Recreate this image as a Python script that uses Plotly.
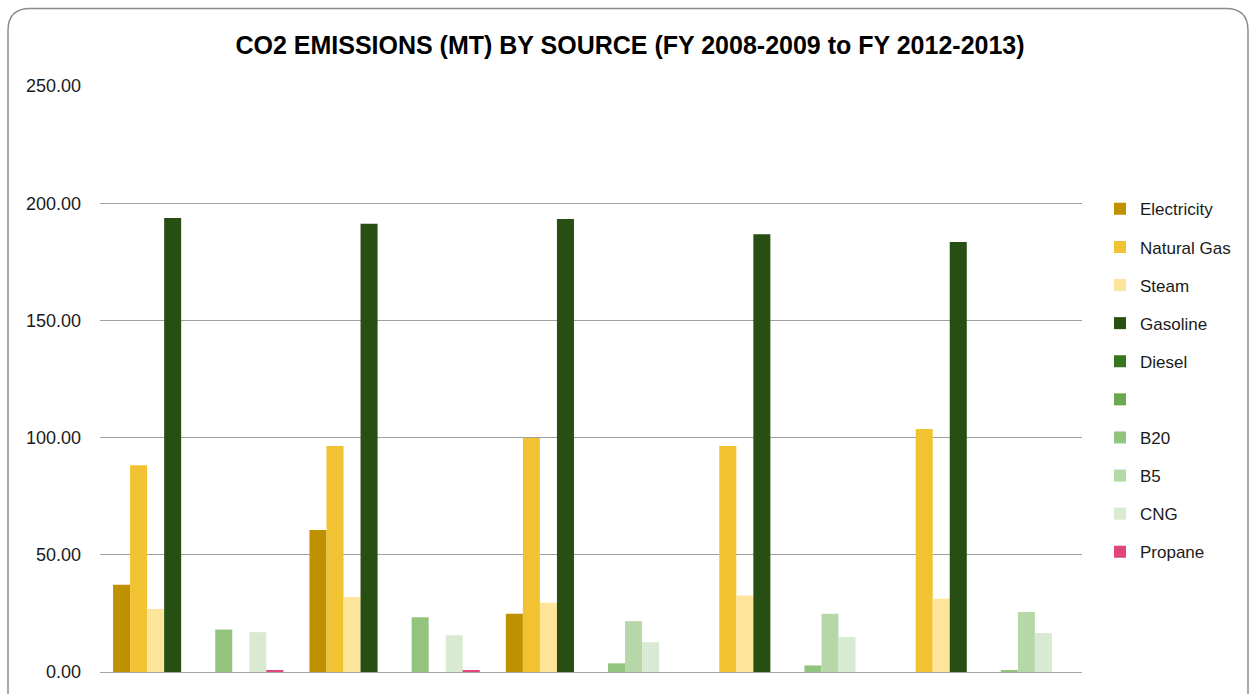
import plotly.graph_objects as go

years = ["FY 2008-2009", "FY 2009-2010", "FY 2010-2011", "FY 2011-2012", "FY 2012-2013"]

electricity = [37.2, 60.6, 24.8, None, None]
natural_gas = [88.2, 96.4, 99.8, 96.4, 103.7]
steam = [26.9, 32.0, 29.5, 32.6, 31.2]
gasoline = [193.7, 191.2, 193.3, 186.8, 183.5]
diesel = [None, None, None, None, None]
blank = [None, None, None, None, None]
b20 = [18.1, 23.4, 3.7, 2.8, 0.8]
b5 = [None, None, 21.7, 24.8, 25.6]
cng = [17.0, 15.7, 12.7, 14.9, 16.6]
propane = [0.8, 0.8, None, None, None]

series = [
    ("Electricity", electricity, "#BF9000"),
    ("Natural Gas", natural_gas, "#F1C232"),
    ("Steam", steam, "#FFE599"),
    ("Gasoline", gasoline, "#274E13"),
    ("Diesel", diesel, "#38761D"),
    (" ", blank, "#6AA84F"),
    ("B20", b20, "#93C47D"),
    ("B5", b5, "#B6D7A8"),
    ("CNG", cng, "#D9EAD3"),
    ("Propane", propane, "#E0457B"),
]

FONT = "Liberation Sans"

fig = go.Figure()
for i, (name, vals, color) in enumerate(series):
    fig.add_trace(go.Bar(
        x=years, y=vals, name=name, legendgroup=f"g{i}",
        marker=dict(color=color, line=dict(width=0)),
    ))

L, R, T, B = 100, 168, 86, 18
W, H = 1250, 694
pw, ph = W - L - R, H - T - B

def px(x):
    return (x - L) / pw

def py(y):
    return (H - B - y) / ph

# rounded outer border
x0, x1, y0, y1 = px(8), px(1248), py(8), py(720)
rx, ry = 22 / pw, 22 / ph
path = (f"M {x0},{y1} L {x0},{y0 - ry} Q {x0},{y0} {x0 + rx},{y0} "
        f"L {x1 - rx},{y0} Q {x1},{y0} {x1},{y0 - ry} L {x1},{y1}")

fig.update_layout(
    width=W, height=H,
    margin=dict(l=L, r=R, t=T, b=B),
    paper_bgcolor="white", plot_bgcolor="white",
    barmode="group", bargap=0.133, bargroupgap=0,
    title=dict(text="<b>CO2 EMISSIONS (MT) BY SOURCE (FY 2008-2009 to FY 2012-2013)</b>",
               x=0.504, xanchor="center", y=0.935, yanchor="middle",
               font=dict(family=FONT, size=25, color="#000000")),
    font=dict(family=FONT, size=17, color="#1a1a1a"),
    xaxis=dict(showticklabels=False, showgrid=False, showline=True,
               linecolor="#A6A6A6", linewidth=1, ticks=""),
    yaxis=dict(range=[0, 250], dtick=50, tickformat=".2f",
               showgrid=True, gridcolor="#A0A0A0", gridwidth=1,
               zeroline=False, showline=False, ticks="",
               ticklabelstandoff=18,
               tickfont=dict(family=FONT, size=18, color="#1a1a1a")),
    legend=dict(x=px(1100), xanchor="left", y=py(192), yanchor="top",
                traceorder="grouped", tracegroupgap=13, itemwidth=30,
                font=dict(family=FONT, size=17, color="#1a1a1a"),
                itemclick=False),
    shapes=[dict(type="path", path=path, xref="paper", yref="paper",
                 line=dict(color="#8C8C8C", width=1.5), layer="above")],
)

fig.write_html("out.html")
